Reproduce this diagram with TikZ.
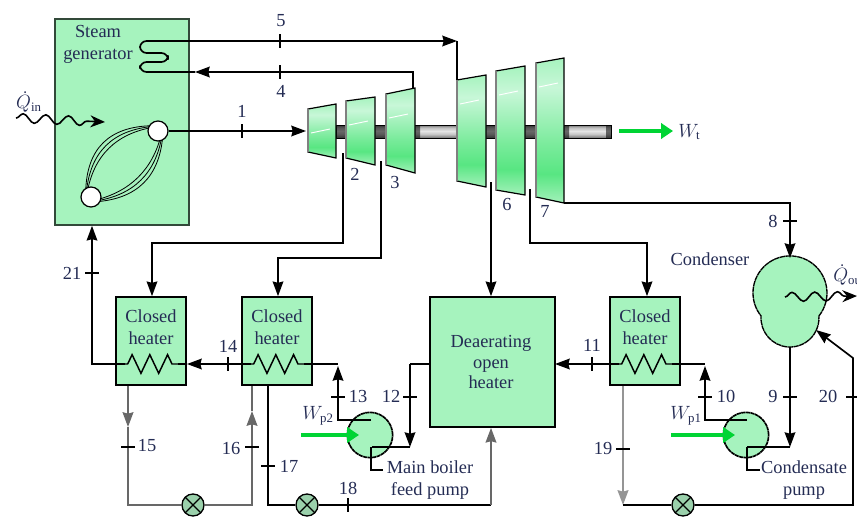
\documentclass[tikz,border=0pt]{standalone}
\usepackage{amsmath}
\usepackage{fontspec}
\setmainfont{Liberation Serif}
\definecolor{plantgreen}{RGB}{166,243,190}
\definecolor{powergreen}{RGB}{0,212,52}
\definecolor{plantink}{RGB}{36,44,84}
\definecolor{softwire}{RGB}{104,104,104}
\definecolor{stagelow}{RGB}{88,230,130}
\definecolor{stagehigh}{RGB}{200,247,216}
\usetikzlibrary{arrows.meta,positioning,calc,decorations.pathmorphing}
\pgfdeclareverticalshading{stagefill}{100bp}{color(0bp)=(stagelow!55!white); color(25bp)=(stagelow!55!white); color(35bp)=(stagelow); color(45bp)=(stagelow!80!white); color(65bp)=(stagehigh); color(75bp)=(plantgreen); color(100bp)=(plantgreen)}
\pgfdeclareverticalshading{shaftfill}{100bp}{color(0bp)=(gray!90!black); color(25bp)=(gray!90!black); color(40bp)=(gray!45); color(52bp)=(gray!20); color(65bp)=(gray!50); color(75bp)=(gray!90!black); color(100bp)=(gray!90!black)}
\tikzset{
  wire/.style={line width=1.25pt},
  softline/.style={line width=1.6pt, softwire},
  flow/.style={wire, -{Stealth[length=11pt,width=8pt,inset=1pt]}},
  softflow/.style={softline, -{Stealth[length=11pt,width=8pt,inset=1pt]}},
  tickmark/.style={line width=0.9pt},
  power/.style={powergreen, line width=3.6pt, -{Triangle[length=9pt,width=11.5pt]}},
  wave/.style={line width=1.2pt, decorate, decoration={snake,amplitude=3.4pt,segment length=17pt,post length=7pt}},
  unitbox/.style={draw, line width=1.25pt, fill=plantgreen, inner sep=0pt},
  heater/.style={unitbox, minimum width=52.5pt, minimum height=66pt},
  pump/.style={unitbox, dash pattern=on 3pt off 0.4pt, circle, minimum size=34pt},
  valve/.style={draw, line width=1pt, fill=plantgreen!70!gray, circle, minimum size=16.5pt, inner sep=0pt,
    path picture={\draw[line width=0.9pt] (path picture bounding box.north west) -- (path picture bounding box.south east)
      (path picture bounding box.north east) -- (path picture bounding box.south west);}},
  port/.style={draw, line width=0.9pt, fill=white, circle, minimum size=15pt, inner sep=0pt},
  txt/.style={font=\fontsize{13.8}{16.4}\selectfont, text=plantink, align=center, inner sep=0pt},
  coil/.style={line width=1.1pt, decorate, decoration={zigzag,amplitude=7pt,segment length=13.3pt,pre length=2pt,post length=2pt}},
}
\begin{document}
\begin{tikzpicture}[x=0.75pt,y=-0.75pt]
\useasboundingbox (0,0) rectangle (857,518);
% Steam generator
\node[unitbox, draw=black!70!plantgreen, minimum width=100.5pt, minimum height=154.5pt] (gen) at (122,122) {};
\node[txt] (genlabel) at (98,44) {Steam\\generator};
\coordinate (riserTop) at (158,131);
\coordinate (riserBot) at (91,197);
\foreach \d in {38,33,28,-34,-29,-24}
  \draw[line width=0.6pt] ({158-0.14*\d},{131-0.14*\d}) .. controls ({135.7-0.7*\d},{153-0.7*\d}) and ({113.3-0.7*\d},{175-0.7*\d}) .. ({91-0.14*\d},{197-0.14*\d});
\node[port] (portTop) at (riserTop) {};
\node[port] (portBot) at (riserBot) {};
% Shaft and turbine stages
\draw[line width=0.6pt, shading=shaftfill] (336,125) rectangle (611,138);
\fill[black, opacity=0.55] (336,125) rectangle (346,138) (375,125) rectangle (386,138)
  (415,125) rectangle (420,138) (486,125) rectangle (496,138) (525,125) rectangle (536,138)
  (564,125) rectangle (569,138) (606,125) rectangle (611,138);
\foreach \s/\xl/\xr/\tl/\tr/\br/\bl in {A/308/336/109/104/158/152,B/346/375/101/97/165/158,C/386/415/94/88/173/165,
    D/457/486/80/75/187/181,E/496/525/71/66/195/190,F/536/564/63/58/203/197}{
  \draw[line width=0.9pt, shading=stagefill] (\xl,\tl) -- (\xr,\tr) -- (\xr,\br) -- (\xl,\bl) -- cycle;
  \draw[gray, line width=1.3pt] (\xl,\tl) -- (\xl,\bl);
  \draw[white, line width=0.7pt] (\xl+3,\tl+24) -- (\xl+22,\tl+20);
  \coordinate (stage\s tl) at (\xl,\tl);
  \coordinate (stage\s br) at (\xr,\br);
  \coordinate (stage\s in) at (\xl-2,131);
}
% Heaters and pumps
\node[heater] (htrA) at (151,341) {};
\node[heater] (htrB) at (277,341) {};
\node[heater] (htrC) at (645,341) {};
\node[unitbox, minimum width=94pt, minimum height=97.5pt] (dea) at (492.5,362) {};
\foreach \h/\txtx in {htrA/151,htrB/277,htrC/645}{
  \node[txt] (\h label) at (\txtx,327) {Closed\\heater};
  \coordinate (\h L) at ($(\h.center)+(-26,23)$);
  \coordinate (\h R) at ($(\h.center)+(27,23)$);
  \draw[coil] (\h L) -- (\h R);
}
\node[txt, font=\fontsize{13.8}{15.2}\selectfont] (dealabel) at (491,362) {Deaerating\\open\\heater};
\node[pump] (pumpA) at (370,435) {};
\node[pump] (pumpB) at (746,435) {};
\node[valve] (valveA) at (193,505) {};
\node[valve] (valveB) at (307,505) {};
\node[valve] (valveC) at (683,505) {};
% Condenser
\draw[line width=1pt, fill=plantgreen, dash pattern=on 4pt off 0.4pt] (818.9,316) arc (38.6:-218.6:37) arc (184:-4:29) -- cycle;
\coordinate (condTop) at (790,258);
\coordinate (condBot) at (790,347);
\coordinate (condIn) at (816,330);
% Steam lines
\coordinate (fiveTurn) at (457,41);
\coordinate (fourTurn) at (413,72);
\coordinate (fourFoot) at (413,89);
\coordinate (coilStart) at (200,41);
\coordinate (coilEnd) at (195,72);
\draw[flow] (coilStart) -- (fiveTurn);
\draw[wire] (fiveTurn) -- (stageDtl);
\draw[wire, rounded corners=5] (coilStart) -- (140,41) -- (140,53) -- (168,53) -- (168,62) -- (140,62) -- (140,72) -- (coilEnd);
\draw[flow] (fourFoot) -- (fourTurn) -- (coilEnd);
\draw[flow] (portTop) -- (stageAin);
% Extractions
\coordinate (bleedA) at (343,153);
\coordinate (bleedB) at (381,161);
\coordinate (bleedC) at (491,182);
\coordinate (bleedD) at (530,189);
\draw[flow] (bleedA) |- (152,243) -- (htrA.north -| 152,0);
\draw[flow] (bleedB) |- (278,258) -- (htrB.north -| 278,0);
\draw[flow] (bleedC) -- (bleedC |- dea.north);
\draw[flow] (bleedD) |- (647,243) -- (htrC.north -| 647,0);
\draw[flow] (stageFbr) -| (condTop);
% Feedwater train
\draw[flow] (htrAL) -| (gen.south -| 92,0);
\coordinate (tipFourteen) at (187,364);
\draw[flow] (htrBL) -- (tipFourteen);
\draw[wire] (tipFourteen) -- (htrAR);
\coordinate (tipEleven) at (555,364);
\draw[flow] (htrCL) -- (tipEleven);
% Pump connections
\coordinate (pumpAup) at (338,366);
\coordinate (pumpBup) at (705,366);
\coordinate (pumpAlow) at (410,447);
\coordinate (pumpBlow) at (790,447);
\draw[wire] (htrBR) -- (338,364);
\draw[flow] (371,420) -- (338,420) -- (pumpAup);
\draw[wire] (dea.west |- 0,364) -- (410,364);
\draw[flow] (410,364) -- (pumpAlow);
\draw[wire] (pumpAlow) -- (372,447);
\draw[wire] (371,447) |- (383,470);
\draw[wire] (htrCR) -- (705,364);
\draw[flow] (747,420) -- (705,420) -- (pumpBup);
\draw[flow] (condBot) -- (pumpBlow);
\draw[wire] (pumpBlow) -- (747,447);
\draw[wire] (747,447) |- (760,470);
% Drains
\coordinate (tipFifteen) at (128,427);
\coordinate (tipSixteen) at (252,411);
\coordinate (tipNineteen) at (623,505);
\draw[softflow] (htrA.south -| 128,0) -- (tipFifteen);
\draw[softline] (tipFifteen) |- (valveA);
\draw[softflow] (valveA) -| (tipSixteen);
\draw[softline] (tipSixteen) -- (htrB.south -| 252,0);
\draw[wire] (htrB.south -| 268,0) |- (valveB);
\draw[wire] (valveB) -- (491,505);
\draw[softflow] (491,505) -- (dea.south -| 491,0);
\draw[softflow, line width=1.9pt, softwire!70] (htrC.south -| 623,0) -- (tipNineteen);
\draw[wire] (tipNineteen) -- (valveC);
\draw[flow] (valveC) -- (853,505) -- (853,358) -- (condIn);
% Heat and work
\coordinate (heatStart) at (16,118);
\coordinate (heatEnd) at (105,122);
\coordinate (coldStart) at (785,297);
\coordinate (coldEnd) at (857,296);
\draw[wave, -{Stealth[length=11pt,width=9pt]}] (heatStart) -- (heatEnd);
\draw[wave, -{Stealth[length=11pt,width=9pt]}] (coldStart) -- (coldEnd);
\coordinate (workStart) at (619,131);
\coordinate (workEnd) at (673,131);
\coordinate (pumpAWork) at (301,435);
\coordinate (pumpAEnd) at (359,435);
\coordinate (pumpBWork) at (671,435);
\coordinate (pumpBEnd) at (735,435);
\draw[power] (workStart) -- (workEnd);
\draw[power] (pumpAWork) -- (pumpAEnd);
\draw[power] (pumpBWork) -- (pumpBEnd);
% Tick marks
\foreach \x/\y in {790/221,790/397,705/397,410/397,338/397,128/447,252/447,268/466,623/449,853/397,92/273}
  \draw[tickmark] (\x-7,\y) -- (\x+7,\y);
\foreach \x/\y in {242/131,280/72,280/41,592/364,228/364,348/505}
  \draw[tickmark] (\x,\y-7) -- (\x,\y+7);
% State numbers
\foreach \n/\x/\y in {1/242/111,2/355/174,3/395/182,4/281/91,5/281/21,6/507/204,7/545/211,8/773/221,9/773/396,
    10/726/396,11/592/345,12/391/396,13/358/396,14/228/346,15/147/446,16/231/448,17/289/466,18/348/488,
    19/603/448,20/828/396,21/72/273}
  \node[txt] (state\n) at (\x,\y) {\n};
% Other labels
\node[txt] (qin) at (29,102) {$\dot{Q}_{\mathrm{in}}$};
\node[txt, anchor=west] (qout) at (833,275) {$\dot{Q}_{\mathrm{out}}$};
\node[txt, anchor=west] (wt) at (678,132) {$W_{\mathrm{t}}$};
\node[txt] (wptwo) at (318,416) {$W_{\mathrm{p2}}$};
\node[txt] (wpone) at (686,416) {$W_{\mathrm{p1}}$};
\node[txt] (condlabel) at (710,259) {Condenser};
\node[txt] (mainlabel) at (430,480) {Main boiler\\feed pump};
\node[txt] (pumplabel) at (804,480) {Condensate\\pump};
\end{tikzpicture}
\end{document}
